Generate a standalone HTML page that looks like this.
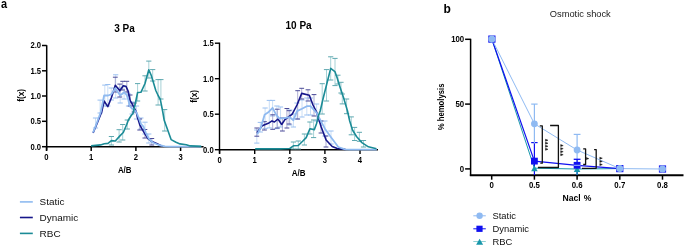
<!DOCTYPE html>
<html><head><meta charset="utf-8"><style>
html,body{margin:0;padding:0;background:#fff;width:685px;height:246px;overflow:hidden}
svg{display:block;font-family:"Liberation Sans", sans-serif;will-change:transform}
</style></head><body>
<svg width="685" height="246" viewBox="0 0 685 246">
<text x="1.0" y="8.0" font-size="12.6" font-weight="bold" text-anchor="start" fill="#000" transform="translate(1 8) scale(0.87 1) translate(-1 -8)">a</text>
<text x="443.4" y="13.2" font-size="12" font-weight="bold" text-anchor="start" fill="#000" >b</text>
<text x="124.5" y="31.5" font-size="10" font-weight="bold" text-anchor="middle" fill="#000" >3 Pa</text>
<line x1="46.7" y1="45.2" x2="46.7" y2="150.5" stroke="#000" stroke-width="1.5" />
<line x1="42.0" y1="45.5" x2="46.7" y2="45.5" stroke="#000" stroke-width="1.5" />
<text transform="translate(41.1 48.3) scale(0.97 1.13)" font-size="7.9" font-weight="bold" text-anchor="end" fill="#000">2.0</text>
<line x1="42.0" y1="70.8" x2="46.7" y2="70.8" stroke="#000" stroke-width="1.5" />
<text transform="translate(41.1 73.6) scale(0.97 1.13)" font-size="7.9" font-weight="bold" text-anchor="end" fill="#000">1.5</text>
<line x1="42.0" y1="96.0" x2="46.7" y2="96.0" stroke="#000" stroke-width="1.5" />
<text transform="translate(41.1 98.8) scale(0.97 1.13)" font-size="7.9" font-weight="bold" text-anchor="end" fill="#000">1.0</text>
<line x1="42.0" y1="121.3" x2="46.7" y2="121.3" stroke="#000" stroke-width="1.5" />
<text transform="translate(41.1 124.1) scale(0.97 1.13)" font-size="7.9" font-weight="bold" text-anchor="end" fill="#000">0.5</text>
<line x1="42.0" y1="146.7" x2="46.7" y2="146.7" stroke="#000" stroke-width="1.5" />
<text transform="translate(41.1 149.5) scale(0.97 1.13)" font-size="7.9" font-weight="bold" text-anchor="end" fill="#000">0.0</text>
<line x1="45.95" y1="146.7" x2="203.6" y2="146.7" stroke="#000" stroke-width="1.5" />
<line x1="46.5" y1="146.7" x2="46.5" y2="151.0" stroke="#000" stroke-width="1.5" />
<text transform="translate(46.5 159.6) scale(0.97 1.13)" font-size="7.9" font-weight="bold" text-anchor="middle" fill="#000">0</text>
<line x1="91.2" y1="146.7" x2="91.2" y2="151.0" stroke="#000" stroke-width="1.5" />
<text transform="translate(91.2 159.6) scale(0.97 1.13)" font-size="7.9" font-weight="bold" text-anchor="middle" fill="#000">1</text>
<line x1="135.9" y1="146.7" x2="135.9" y2="151.0" stroke="#000" stroke-width="1.5" />
<text transform="translate(135.9 159.6) scale(0.97 1.13)" font-size="7.9" font-weight="bold" text-anchor="middle" fill="#000">2</text>
<line x1="180.6" y1="146.7" x2="180.6" y2="151.0" stroke="#000" stroke-width="1.5" />
<text transform="translate(180.6 159.6) scale(0.97 1.13)" font-size="7.9" font-weight="bold" text-anchor="middle" fill="#000">3</text>
<text transform="translate(124.7 172.9) scale(0.99 1.16)" font-size="8.0" font-weight="bold" text-anchor="middle" fill="#000">A/B</text>
<text x="24.5" y="95.4" font-size="8.2" font-weight="bold" text-anchor="middle" fill="#000" transform="rotate(-90 24.5 95.4)">f(x)</text>
<line x1="95.5" y1="118" x2="95.5" y2="128" stroke="#bcd6f4" stroke-width="0.8" />
<line x1="92.9" y1="118" x2="98.1" y2="118" stroke="#99bff0" stroke-width="1.0" />
<line x1="92.9" y1="128" x2="98.1" y2="128" stroke="#99bff0" stroke-width="1.0" />
<line x1="100.1" y1="100.1" x2="100.1" y2="113" stroke="#bcd6f4" stroke-width="0.8" />
<line x1="97.5" y1="100.1" x2="102.69999999999999" y2="100.1" stroke="#99bff0" stroke-width="1.0" />
<line x1="97.5" y1="113" x2="102.69999999999999" y2="113" stroke="#99bff0" stroke-width="1.0" />
<line x1="104.8" y1="85.1" x2="104.8" y2="106" stroke="#bcd6f4" stroke-width="0.8" />
<line x1="102.2" y1="85.1" x2="107.39999999999999" y2="85.1" stroke="#99bff0" stroke-width="1.0" />
<line x1="102.2" y1="106" x2="107.39999999999999" y2="106" stroke="#99bff0" stroke-width="1.0" />
<line x1="107.8" y1="84.5" x2="107.8" y2="106" stroke="#bcd6f4" stroke-width="0.8" />
<line x1="105.2" y1="84.5" x2="110.39999999999999" y2="84.5" stroke="#99bff0" stroke-width="1.0" />
<line x1="105.2" y1="106" x2="110.39999999999999" y2="106" stroke="#99bff0" stroke-width="1.0" />
<line x1="111.3" y1="88" x2="111.3" y2="100" stroke="#bcd6f4" stroke-width="0.8" />
<line x1="108.7" y1="88" x2="113.89999999999999" y2="88" stroke="#99bff0" stroke-width="1.0" />
<line x1="108.7" y1="100" x2="113.89999999999999" y2="100" stroke="#99bff0" stroke-width="1.0" />
<line x1="115.7" y1="74.8" x2="115.7" y2="98" stroke="#bcd6f4" stroke-width="0.8" />
<line x1="113.10000000000001" y1="74.8" x2="118.3" y2="74.8" stroke="#99bff0" stroke-width="1.0" />
<line x1="113.10000000000001" y1="98" x2="118.3" y2="98" stroke="#99bff0" stroke-width="1.0" />
<line x1="120.2" y1="88" x2="120.2" y2="103" stroke="#bcd6f4" stroke-width="0.8" />
<line x1="117.60000000000001" y1="88" x2="122.8" y2="88" stroke="#99bff0" stroke-width="1.0" />
<line x1="117.60000000000001" y1="103" x2="122.8" y2="103" stroke="#99bff0" stroke-width="1.0" />
<line x1="124.1" y1="86" x2="124.1" y2="99" stroke="#bcd6f4" stroke-width="0.8" />
<line x1="121.5" y1="86" x2="126.69999999999999" y2="86" stroke="#99bff0" stroke-width="1.0" />
<line x1="121.5" y1="99" x2="126.69999999999999" y2="99" stroke="#99bff0" stroke-width="1.0" />
<line x1="128.5" y1="94" x2="128.5" y2="106" stroke="#bcd6f4" stroke-width="0.8" />
<line x1="125.9" y1="94" x2="131.1" y2="94" stroke="#99bff0" stroke-width="1.0" />
<line x1="125.9" y1="106" x2="131.1" y2="106" stroke="#99bff0" stroke-width="1.0" />
<line x1="132.1" y1="102" x2="132.1" y2="114" stroke="#bcd6f4" stroke-width="0.8" />
<line x1="129.5" y1="102" x2="134.7" y2="102" stroke="#99bff0" stroke-width="1.0" />
<line x1="129.5" y1="114" x2="134.7" y2="114" stroke="#99bff0" stroke-width="1.0" />
<line x1="136.5" y1="106" x2="136.5" y2="119" stroke="#bcd6f4" stroke-width="0.8" />
<line x1="133.9" y1="106" x2="139.1" y2="106" stroke="#99bff0" stroke-width="1.0" />
<line x1="133.9" y1="119" x2="139.1" y2="119" stroke="#99bff0" stroke-width="1.0" />
<line x1="140.9" y1="118" x2="140.9" y2="129" stroke="#bcd6f4" stroke-width="0.8" />
<line x1="138.3" y1="118" x2="143.5" y2="118" stroke="#99bff0" stroke-width="1.0" />
<line x1="138.3" y1="129" x2="143.5" y2="129" stroke="#99bff0" stroke-width="1.0" />
<line x1="145" y1="122.2" x2="145" y2="134" stroke="#bcd6f4" stroke-width="0.8" />
<line x1="142.4" y1="122.2" x2="147.6" y2="122.2" stroke="#99bff0" stroke-width="1.0" />
<line x1="142.4" y1="134" x2="147.6" y2="134" stroke="#99bff0" stroke-width="1.0" />
<line x1="148.8" y1="134" x2="148.8" y2="143" stroke="#bcd6f4" stroke-width="0.8" />
<line x1="146.20000000000002" y1="134" x2="151.4" y2="134" stroke="#99bff0" stroke-width="1.0" />
<line x1="146.20000000000002" y1="143" x2="151.4" y2="143" stroke="#99bff0" stroke-width="1.0" />
<line x1="115.3" y1="77.2" x2="115.3" y2="92" stroke="#9a9ac8" stroke-width="0.8" />
<line x1="112.89999999999999" y1="77.2" x2="117.7" y2="77.2" stroke="#4a4a98" stroke-width="1.0" />
<line x1="112.89999999999999" y1="92" x2="117.7" y2="92" stroke="#4a4a98" stroke-width="1.0" />
<line x1="119.8" y1="84.1" x2="119.8" y2="97" stroke="#9a9ac8" stroke-width="0.8" />
<line x1="117.39999999999999" y1="84.1" x2="122.2" y2="84.1" stroke="#4a4a98" stroke-width="1.0" />
<line x1="117.39999999999999" y1="97" x2="122.2" y2="97" stroke="#4a4a98" stroke-width="1.0" />
<line x1="122.7" y1="81.3" x2="122.7" y2="90" stroke="#9a9ac8" stroke-width="0.8" />
<line x1="120.3" y1="81.3" x2="125.10000000000001" y2="81.3" stroke="#4a4a98" stroke-width="1.0" />
<line x1="120.3" y1="90" x2="125.10000000000001" y2="90" stroke="#4a4a98" stroke-width="1.0" />
<line x1="126.8" y1="81.3" x2="126.8" y2="92" stroke="#9a9ac8" stroke-width="0.8" />
<line x1="124.39999999999999" y1="81.3" x2="129.2" y2="81.3" stroke="#4a4a98" stroke-width="1.0" />
<line x1="124.39999999999999" y1="92" x2="129.2" y2="92" stroke="#4a4a98" stroke-width="1.0" />
<line x1="130.1" y1="95" x2="130.1" y2="106" stroke="#9a9ac8" stroke-width="0.8" />
<line x1="127.69999999999999" y1="95" x2="132.5" y2="95" stroke="#4a4a98" stroke-width="1.0" />
<line x1="127.69999999999999" y1="106" x2="132.5" y2="106" stroke="#4a4a98" stroke-width="1.0" />
<line x1="134.2" y1="103" x2="134.2" y2="112" stroke="#9a9ac8" stroke-width="0.8" />
<line x1="131.79999999999998" y1="103" x2="136.6" y2="103" stroke="#4a4a98" stroke-width="1.0" />
<line x1="131.79999999999998" y1="112" x2="136.6" y2="112" stroke="#4a4a98" stroke-width="1.0" />
<line x1="139.7" y1="119" x2="139.7" y2="130" stroke="#9a9ac8" stroke-width="0.8" />
<line x1="137.29999999999998" y1="119" x2="142.1" y2="119" stroke="#4a4a98" stroke-width="1.0" />
<line x1="137.29999999999998" y1="130" x2="142.1" y2="130" stroke="#4a4a98" stroke-width="1.0" />
<line x1="144.9" y1="129.5" x2="144.9" y2="138" stroke="#9a9ac8" stroke-width="0.8" />
<line x1="142.5" y1="129.5" x2="147.3" y2="129.5" stroke="#4a4a98" stroke-width="1.0" />
<line x1="142.5" y1="138" x2="147.3" y2="138" stroke="#4a4a98" stroke-width="1.0" />
<line x1="151.8" y1="138.5" x2="151.8" y2="145" stroke="#9a9ac8" stroke-width="0.8" />
<line x1="149.4" y1="138.5" x2="154.20000000000002" y2="138.5" stroke="#4a4a98" stroke-width="1.0" />
<line x1="149.4" y1="145" x2="154.20000000000002" y2="145" stroke="#4a4a98" stroke-width="1.0" />
<line x1="111.4" y1="136.5" x2="111.4" y2="145" stroke="#8fc5cb" stroke-width="0.8" />
<line x1="108.80000000000001" y1="136.5" x2="114.0" y2="136.5" stroke="#5ea8b0" stroke-width="1.0" />
<line x1="108.80000000000001" y1="145" x2="114.0" y2="145" stroke="#5ea8b0" stroke-width="1.0" />
<line x1="119.1" y1="129.7" x2="119.1" y2="142" stroke="#8fc5cb" stroke-width="0.8" />
<line x1="116.5" y1="129.7" x2="121.69999999999999" y2="129.7" stroke="#5ea8b0" stroke-width="1.0" />
<line x1="116.5" y1="142" x2="121.69999999999999" y2="142" stroke="#5ea8b0" stroke-width="1.0" />
<line x1="122.7" y1="124.5" x2="122.7" y2="140" stroke="#8fc5cb" stroke-width="0.8" />
<line x1="120.10000000000001" y1="124.5" x2="125.3" y2="124.5" stroke="#5ea8b0" stroke-width="1.0" />
<line x1="120.10000000000001" y1="140" x2="125.3" y2="140" stroke="#5ea8b0" stroke-width="1.0" />
<line x1="127.3" y1="120" x2="127.3" y2="129" stroke="#8fc5cb" stroke-width="0.8" />
<line x1="124.7" y1="120" x2="129.9" y2="120" stroke="#5ea8b0" stroke-width="1.0" />
<line x1="124.7" y1="129" x2="129.9" y2="129" stroke="#5ea8b0" stroke-width="1.0" />
<line x1="137.6" y1="83.6" x2="137.6" y2="101" stroke="#8fc5cb" stroke-width="0.8" />
<line x1="135.0" y1="83.6" x2="140.2" y2="83.6" stroke="#5ea8b0" stroke-width="1.0" />
<line x1="135.0" y1="101" x2="140.2" y2="101" stroke="#5ea8b0" stroke-width="1.0" />
<line x1="145" y1="75.8" x2="145" y2="91" stroke="#8fc5cb" stroke-width="0.8" />
<line x1="142.4" y1="75.8" x2="147.6" y2="75.8" stroke="#5ea8b0" stroke-width="1.0" />
<line x1="142.4" y1="91" x2="147.6" y2="91" stroke="#5ea8b0" stroke-width="1.0" />
<line x1="148.8" y1="61.1" x2="148.8" y2="78" stroke="#8fc5cb" stroke-width="0.8" />
<line x1="146.20000000000002" y1="61.1" x2="151.4" y2="61.1" stroke="#5ea8b0" stroke-width="1.0" />
<line x1="146.20000000000002" y1="78" x2="151.4" y2="78" stroke="#5ea8b0" stroke-width="1.0" />
<line x1="152.7" y1="69.6" x2="152.7" y2="81" stroke="#8fc5cb" stroke-width="0.8" />
<line x1="150.1" y1="69.6" x2="155.29999999999998" y2="69.6" stroke="#5ea8b0" stroke-width="1.0" />
<line x1="150.1" y1="81" x2="155.29999999999998" y2="81" stroke="#5ea8b0" stroke-width="1.0" />
<line x1="158.1" y1="79.6" x2="158.1" y2="105" stroke="#8fc5cb" stroke-width="0.8" />
<line x1="155.5" y1="79.6" x2="160.7" y2="79.6" stroke="#5ea8b0" stroke-width="1.0" />
<line x1="155.5" y1="105" x2="160.7" y2="105" stroke="#5ea8b0" stroke-width="1.0" />
<line x1="160.9" y1="79.6" x2="160.9" y2="99" stroke="#8fc5cb" stroke-width="0.8" />
<line x1="158.3" y1="79.6" x2="163.5" y2="79.6" stroke="#5ea8b0" stroke-width="1.0" />
<line x1="158.3" y1="99" x2="163.5" y2="99" stroke="#5ea8b0" stroke-width="1.0" />
<line x1="164.7" y1="109.6" x2="164.7" y2="131" stroke="#8fc5cb" stroke-width="0.8" />
<line x1="162.1" y1="109.6" x2="167.29999999999998" y2="109.6" stroke="#5ea8b0" stroke-width="1.0" />
<line x1="162.1" y1="131" x2="167.29999999999998" y2="131" stroke="#5ea8b0" stroke-width="1.0" />
<polyline points="93.1,132.9 97.5,122.5 101.7,112 104.1,101 107.8,106.6 111.3,98 115.3,85.2 119.8,90.8 123.3,85.8 126.1,86.6 128.1,91 130.1,100.5 132.1,103.8 134.2,107.8 136.2,111.9 137.7,118.1 139.7,124.6 141.8,128.7 144.9,133.8 147.9,138.6 151.8,141.6 156.6,143.5 162,146.3" fill="none" stroke="#16168a" stroke-width="1.6" stroke-linejoin="round" />
<polyline points="93.1,132.5 97,122.5 100.8,112 104.1,95.5 108,95.5 111.3,94.3 115.3,88.2 120.2,95.5 124.1,92.2 126.6,94.8 128.5,100.5 129.7,106.2 132.1,108.6 134.6,110.3 136.5,112.5 138.9,118.1 140.9,123.8 143.4,126.6 145.9,132.8 148.8,138.6 152.7,142.5 158.6,145 165,146.3 170,146.6 201.2,146.7" fill="none" stroke="#8fbaf0" stroke-width="1.8" stroke-linejoin="round" />
<polyline points="91.1,145.9 100.6,144.9 104.3,143.8 108,143.4 111.4,140.6 115.3,141 119.9,135.9 123.3,132.5 126.7,124.5 128.4,120 131.2,115.5 133,113.5 135.2,104 137.6,92.5 140.9,92.3 145,83.5 148.8,69.8 151.1,75 153.5,82.7 155.8,90.5 158.1,95.5 160.3,99.3 162.8,112 164.2,120.3 167.7,130 171.1,139.6 176,142.3 180,143.9 186.3,144.7 190.2,145.9 201.2,146.4" fill="none" stroke="#1b8b96" stroke-width="1.6" stroke-linejoin="round" />
<text x="298.6" y="29.2" font-size="10" font-weight="bold" text-anchor="middle" fill="#000" >10 Pa</text>
<line x1="219.5" y1="42.6" x2="219.5" y2="153.5" stroke="#000" stroke-width="1.4" />
<line x1="214.9" y1="43.2" x2="219.5" y2="43.2" stroke="#000" stroke-width="1.4" />
<text transform="translate(213.7 46.0) scale(0.97 1.13)" font-size="7.9" font-weight="bold" text-anchor="end" fill="#000">1.5</text>
<line x1="214.9" y1="78.7" x2="219.5" y2="78.7" stroke="#000" stroke-width="1.4" />
<text transform="translate(213.7 81.5) scale(0.97 1.13)" font-size="7.9" font-weight="bold" text-anchor="end" fill="#000">1.0</text>
<line x1="214.9" y1="114.2" x2="219.5" y2="114.2" stroke="#000" stroke-width="1.4" />
<text transform="translate(213.7 117.0) scale(0.97 1.13)" font-size="7.9" font-weight="bold" text-anchor="end" fill="#000">0.5</text>
<line x1="214.9" y1="149.7" x2="219.5" y2="149.7" stroke="#000" stroke-width="1.4" />
<text transform="translate(213.7 152.5) scale(0.97 1.13)" font-size="7.9" font-weight="bold" text-anchor="end" fill="#000">0.0</text>
<line x1="218.8" y1="149.7" x2="378" y2="149.7" stroke="#000" stroke-width="1.4" />
<line x1="219.6" y1="149.7" x2="219.6" y2="154.0" stroke="#000" stroke-width="1.4" />
<text transform="translate(219.6 163.0) scale(0.97 1.13)" font-size="7.9" font-weight="bold" text-anchor="middle" fill="#000">0</text>
<line x1="254.7" y1="149.7" x2="254.7" y2="154.0" stroke="#000" stroke-width="1.4" />
<text transform="translate(254.7 163.0) scale(0.97 1.13)" font-size="7.9" font-weight="bold" text-anchor="middle" fill="#000">1</text>
<line x1="289.8" y1="149.7" x2="289.8" y2="154.0" stroke="#000" stroke-width="1.4" />
<text transform="translate(289.8 163.0) scale(0.97 1.13)" font-size="7.9" font-weight="bold" text-anchor="middle" fill="#000">2</text>
<line x1="324.9" y1="149.7" x2="324.9" y2="154.0" stroke="#000" stroke-width="1.4" />
<text transform="translate(324.9 163.0) scale(0.97 1.13)" font-size="7.9" font-weight="bold" text-anchor="middle" fill="#000">3</text>
<line x1="360.0" y1="149.7" x2="360.0" y2="154.0" stroke="#000" stroke-width="1.4" />
<text transform="translate(360.0 163.0) scale(0.97 1.13)" font-size="7.9" font-weight="bold" text-anchor="middle" fill="#000">4</text>
<text transform="translate(298.6 176.2) scale(0.99 1.16)" font-size="8.1" font-weight="bold" text-anchor="middle" fill="#000">A/B</text>
<text x="196.9" y="96.3" font-size="8.2" font-weight="bold" text-anchor="middle" fill="#000" transform="rotate(-90 196.9 96.3)">f(x)</text>
<line x1="256.8" y1="130" x2="256.8" y2="143.1" stroke="#bcd6f4" stroke-width="0.8" />
<line x1="254.20000000000002" y1="130" x2="259.40000000000003" y2="130" stroke="#99bff0" stroke-width="1.0" />
<line x1="254.20000000000002" y1="143.1" x2="259.40000000000003" y2="143.1" stroke="#99bff0" stroke-width="1.0" />
<line x1="260.3" y1="122.4" x2="260.3" y2="132" stroke="#bcd6f4" stroke-width="0.8" />
<line x1="257.7" y1="122.4" x2="262.90000000000003" y2="122.4" stroke="#99bff0" stroke-width="1.0" />
<line x1="257.7" y1="132" x2="262.90000000000003" y2="132" stroke="#99bff0" stroke-width="1.0" />
<line x1="265.1" y1="108" x2="265.1" y2="128.6" stroke="#bcd6f4" stroke-width="0.8" />
<line x1="262.5" y1="108" x2="267.70000000000005" y2="108" stroke="#99bff0" stroke-width="1.0" />
<line x1="262.5" y1="128.6" x2="267.70000000000005" y2="128.6" stroke="#99bff0" stroke-width="1.0" />
<line x1="269.3" y1="100.4" x2="269.3" y2="127.9" stroke="#bcd6f4" stroke-width="0.8" />
<line x1="266.7" y1="100.4" x2="271.90000000000003" y2="100.4" stroke="#99bff0" stroke-width="1.0" />
<line x1="266.7" y1="127.9" x2="271.90000000000003" y2="127.9" stroke="#99bff0" stroke-width="1.0" />
<line x1="272.6" y1="100.4" x2="272.6" y2="116" stroke="#bcd6f4" stroke-width="0.8" />
<line x1="270.0" y1="100.4" x2="275.20000000000005" y2="100.4" stroke="#99bff0" stroke-width="1.0" />
<line x1="270.0" y1="116" x2="275.20000000000005" y2="116" stroke="#99bff0" stroke-width="1.0" />
<line x1="276.9" y1="106" x2="276.9" y2="128.6" stroke="#bcd6f4" stroke-width="0.8" />
<line x1="274.29999999999995" y1="106" x2="279.5" y2="106" stroke="#99bff0" stroke-width="1.0" />
<line x1="274.29999999999995" y1="128.6" x2="279.5" y2="128.6" stroke="#99bff0" stroke-width="1.0" />
<line x1="280.5" y1="107" x2="280.5" y2="127" stroke="#bcd6f4" stroke-width="0.8" />
<line x1="277.9" y1="107" x2="283.1" y2="107" stroke="#99bff0" stroke-width="1.0" />
<line x1="277.9" y1="127" x2="283.1" y2="127" stroke="#99bff0" stroke-width="1.0" />
<line x1="289.8" y1="110" x2="289.8" y2="125" stroke="#bcd6f4" stroke-width="0.8" />
<line x1="287.2" y1="110" x2="292.40000000000003" y2="110" stroke="#99bff0" stroke-width="1.0" />
<line x1="287.2" y1="125" x2="292.40000000000003" y2="125" stroke="#99bff0" stroke-width="1.0" />
<line x1="293.4" y1="114" x2="293.4" y2="127" stroke="#bcd6f4" stroke-width="0.8" />
<line x1="290.79999999999995" y1="114" x2="296.0" y2="114" stroke="#99bff0" stroke-width="1.0" />
<line x1="290.79999999999995" y1="127" x2="296.0" y2="127" stroke="#99bff0" stroke-width="1.0" />
<line x1="297" y1="103" x2="297" y2="119" stroke="#bcd6f4" stroke-width="0.8" />
<line x1="294.4" y1="103" x2="299.6" y2="103" stroke="#99bff0" stroke-width="1.0" />
<line x1="294.4" y1="119" x2="299.6" y2="119" stroke="#99bff0" stroke-width="1.0" />
<line x1="302" y1="100" x2="302" y2="117" stroke="#bcd6f4" stroke-width="0.8" />
<line x1="299.4" y1="100" x2="304.6" y2="100" stroke="#99bff0" stroke-width="1.0" />
<line x1="299.4" y1="117" x2="304.6" y2="117" stroke="#99bff0" stroke-width="1.0" />
<line x1="306.8" y1="98" x2="306.8" y2="115" stroke="#bcd6f4" stroke-width="0.8" />
<line x1="304.2" y1="98" x2="309.40000000000003" y2="98" stroke="#99bff0" stroke-width="1.0" />
<line x1="304.2" y1="115" x2="309.40000000000003" y2="115" stroke="#99bff0" stroke-width="1.0" />
<line x1="310.5" y1="98" x2="310.5" y2="115" stroke="#bcd6f4" stroke-width="0.8" />
<line x1="307.9" y1="98" x2="313.1" y2="98" stroke="#99bff0" stroke-width="1.0" />
<line x1="307.9" y1="115" x2="313.1" y2="115" stroke="#99bff0" stroke-width="1.0" />
<line x1="316.6" y1="104" x2="316.6" y2="121" stroke="#bcd6f4" stroke-width="0.8" />
<line x1="314.0" y1="104" x2="319.20000000000005" y2="104" stroke="#99bff0" stroke-width="1.0" />
<line x1="314.0" y1="121" x2="319.20000000000005" y2="121" stroke="#99bff0" stroke-width="1.0" />
<line x1="324.9" y1="121" x2="324.9" y2="136" stroke="#bcd6f4" stroke-width="0.8" />
<line x1="322.29999999999995" y1="121" x2="327.5" y2="121" stroke="#99bff0" stroke-width="1.0" />
<line x1="322.29999999999995" y1="136" x2="327.5" y2="136" stroke="#99bff0" stroke-width="1.0" />
<line x1="331" y1="131" x2="331" y2="144" stroke="#bcd6f4" stroke-width="0.8" />
<line x1="328.4" y1="131" x2="333.6" y2="131" stroke="#99bff0" stroke-width="1.0" />
<line x1="328.4" y1="144" x2="333.6" y2="144" stroke="#99bff0" stroke-width="1.0" />
<line x1="256.8" y1="128" x2="256.8" y2="136.2" stroke="#9a9ac8" stroke-width="0.8" />
<line x1="254.4" y1="128" x2="259.2" y2="128" stroke="#4a4a98" stroke-width="1.0" />
<line x1="254.4" y1="136.2" x2="259.2" y2="136.2" stroke="#4a4a98" stroke-width="1.0" />
<line x1="264.4" y1="121.7" x2="264.4" y2="130" stroke="#9a9ac8" stroke-width="0.8" />
<line x1="262.0" y1="121.7" x2="266.79999999999995" y2="121.7" stroke="#4a4a98" stroke-width="1.0" />
<line x1="262.0" y1="130" x2="266.79999999999995" y2="130" stroke="#4a4a98" stroke-width="1.0" />
<line x1="272.7" y1="114.8" x2="272.7" y2="129.3" stroke="#9a9ac8" stroke-width="0.8" />
<line x1="270.3" y1="114.8" x2="275.09999999999997" y2="114.8" stroke="#4a4a98" stroke-width="1.0" />
<line x1="270.3" y1="129.3" x2="275.09999999999997" y2="129.3" stroke="#4a4a98" stroke-width="1.0" />
<line x1="277.3" y1="109.2" x2="277.3" y2="128" stroke="#9a9ac8" stroke-width="0.8" />
<line x1="274.90000000000003" y1="109.2" x2="279.7" y2="109.2" stroke="#4a4a98" stroke-width="1.0" />
<line x1="274.90000000000003" y1="128" x2="279.7" y2="128" stroke="#4a4a98" stroke-width="1.0" />
<line x1="282.4" y1="118" x2="282.4" y2="131" stroke="#9a9ac8" stroke-width="0.8" />
<line x1="280.0" y1="118" x2="284.79999999999995" y2="118" stroke="#4a4a98" stroke-width="1.0" />
<line x1="280.0" y1="131" x2="284.79999999999995" y2="131" stroke="#4a4a98" stroke-width="1.0" />
<line x1="286.9" y1="108.5" x2="286.9" y2="128" stroke="#9a9ac8" stroke-width="0.8" />
<line x1="284.5" y1="108.5" x2="289.29999999999995" y2="108.5" stroke="#4a4a98" stroke-width="1.0" />
<line x1="284.5" y1="128" x2="289.29999999999995" y2="128" stroke="#4a4a98" stroke-width="1.0" />
<line x1="289.1" y1="110.7" x2="289.1" y2="124" stroke="#9a9ac8" stroke-width="0.8" />
<line x1="286.70000000000005" y1="110.7" x2="291.5" y2="110.7" stroke="#4a4a98" stroke-width="1.0" />
<line x1="286.70000000000005" y1="124" x2="291.5" y2="124" stroke="#4a4a98" stroke-width="1.0" />
<line x1="297.7" y1="90.7" x2="297.7" y2="119" stroke="#9a9ac8" stroke-width="0.8" />
<line x1="295.3" y1="90.7" x2="300.09999999999997" y2="90.7" stroke="#4a4a98" stroke-width="1.0" />
<line x1="295.3" y1="119" x2="300.09999999999997" y2="119" stroke="#4a4a98" stroke-width="1.0" />
<line x1="301.7" y1="88.3" x2="301.7" y2="99" stroke="#9a9ac8" stroke-width="0.8" />
<line x1="299.3" y1="88.3" x2="304.09999999999997" y2="88.3" stroke="#4a4a98" stroke-width="1.0" />
<line x1="299.3" y1="99" x2="304.09999999999997" y2="99" stroke="#4a4a98" stroke-width="1.0" />
<line x1="308" y1="89.8" x2="308" y2="101" stroke="#9a9ac8" stroke-width="0.8" />
<line x1="305.6" y1="89.8" x2="310.4" y2="89.8" stroke="#4a4a98" stroke-width="1.0" />
<line x1="305.6" y1="101" x2="310.4" y2="101" stroke="#4a4a98" stroke-width="1.0" />
<line x1="314" y1="94.6" x2="314" y2="116" stroke="#9a9ac8" stroke-width="0.8" />
<line x1="311.6" y1="94.6" x2="316.4" y2="94.6" stroke="#4a4a98" stroke-width="1.0" />
<line x1="311.6" y1="116" x2="316.4" y2="116" stroke="#4a4a98" stroke-width="1.0" />
<line x1="321" y1="121" x2="321" y2="133" stroke="#9a9ac8" stroke-width="0.8" />
<line x1="318.6" y1="121" x2="323.4" y2="121" stroke="#4a4a98" stroke-width="1.0" />
<line x1="318.6" y1="133" x2="323.4" y2="133" stroke="#4a4a98" stroke-width="1.0" />
<line x1="326" y1="136" x2="326" y2="147" stroke="#9a9ac8" stroke-width="0.8" />
<line x1="323.6" y1="136" x2="328.4" y2="136" stroke="#4a4a98" stroke-width="1.0" />
<line x1="323.6" y1="147" x2="328.4" y2="147" stroke="#4a4a98" stroke-width="1.0" />
<line x1="293.4" y1="142" x2="293.4" y2="149" stroke="#8fc5cb" stroke-width="0.8" />
<line x1="290.79999999999995" y1="142" x2="296.0" y2="142" stroke="#5ea8b0" stroke-width="1.0" />
<line x1="290.79999999999995" y1="149" x2="296.0" y2="149" stroke="#5ea8b0" stroke-width="1.0" />
<line x1="298.3" y1="141" x2="298.3" y2="149" stroke="#8fc5cb" stroke-width="0.8" />
<line x1="295.7" y1="141" x2="300.90000000000003" y2="141" stroke="#5ea8b0" stroke-width="1.0" />
<line x1="295.7" y1="149" x2="300.90000000000003" y2="149" stroke="#5ea8b0" stroke-width="1.0" />
<line x1="304.4" y1="134" x2="304.4" y2="145" stroke="#8fc5cb" stroke-width="0.8" />
<line x1="301.79999999999995" y1="134" x2="307.0" y2="134" stroke="#5ea8b0" stroke-width="1.0" />
<line x1="301.79999999999995" y1="145" x2="307.0" y2="145" stroke="#5ea8b0" stroke-width="1.0" />
<line x1="309.9" y1="122" x2="309.9" y2="134" stroke="#8fc5cb" stroke-width="0.8" />
<line x1="307.29999999999995" y1="122" x2="312.5" y2="122" stroke="#5ea8b0" stroke-width="1.0" />
<line x1="307.29999999999995" y1="134" x2="312.5" y2="134" stroke="#5ea8b0" stroke-width="1.0" />
<line x1="313.6" y1="120" x2="313.6" y2="137.6" stroke="#8fc5cb" stroke-width="0.8" />
<line x1="311.0" y1="120" x2="316.20000000000005" y2="120" stroke="#5ea8b0" stroke-width="1.0" />
<line x1="311.0" y1="137.6" x2="316.20000000000005" y2="137.6" stroke="#5ea8b0" stroke-width="1.0" />
<line x1="322.2" y1="83.7" x2="322.2" y2="114" stroke="#8fc5cb" stroke-width="0.8" />
<line x1="319.59999999999997" y1="83.7" x2="324.8" y2="83.7" stroke="#5ea8b0" stroke-width="1.0" />
<line x1="319.59999999999997" y1="114" x2="324.8" y2="114" stroke="#5ea8b0" stroke-width="1.0" />
<line x1="326.5" y1="69.6" x2="326.5" y2="101" stroke="#8fc5cb" stroke-width="0.8" />
<line x1="323.9" y1="69.6" x2="329.1" y2="69.6" stroke="#5ea8b0" stroke-width="1.0" />
<line x1="323.9" y1="101" x2="329.1" y2="101" stroke="#5ea8b0" stroke-width="1.0" />
<line x1="330.7" y1="56.8" x2="330.7" y2="80" stroke="#8fc5cb" stroke-width="0.8" />
<line x1="328.09999999999997" y1="56.8" x2="333.3" y2="56.8" stroke="#5ea8b0" stroke-width="1.0" />
<line x1="328.09999999999997" y1="80" x2="333.3" y2="80" stroke="#5ea8b0" stroke-width="1.0" />
<line x1="335" y1="58.4" x2="335" y2="85.6" stroke="#8fc5cb" stroke-width="0.8" />
<line x1="332.4" y1="58.4" x2="337.6" y2="58.4" stroke="#5ea8b0" stroke-width="1.0" />
<line x1="332.4" y1="85.6" x2="337.6" y2="85.6" stroke="#5ea8b0" stroke-width="1.0" />
<line x1="337.9" y1="75.2" x2="337.9" y2="84" stroke="#8fc5cb" stroke-width="0.8" />
<line x1="335.29999999999995" y1="75.2" x2="340.5" y2="75.2" stroke="#5ea8b0" stroke-width="1.0" />
<line x1="335.29999999999995" y1="84" x2="340.5" y2="84" stroke="#5ea8b0" stroke-width="1.0" />
<line x1="341" y1="82.3" x2="341" y2="93" stroke="#8fc5cb" stroke-width="0.8" />
<line x1="338.4" y1="82.3" x2="343.6" y2="82.3" stroke="#5ea8b0" stroke-width="1.0" />
<line x1="338.4" y1="93" x2="343.6" y2="93" stroke="#5ea8b0" stroke-width="1.0" />
<line x1="342.3" y1="94" x2="342.3" y2="103.9" stroke="#8fc5cb" stroke-width="0.8" />
<line x1="339.7" y1="94" x2="344.90000000000003" y2="94" stroke="#5ea8b0" stroke-width="1.0" />
<line x1="339.7" y1="103.9" x2="344.90000000000003" y2="103.9" stroke="#5ea8b0" stroke-width="1.0" />
<line x1="346.6" y1="99" x2="346.6" y2="113.7" stroke="#8fc5cb" stroke-width="0.8" />
<line x1="344.0" y1="99" x2="349.20000000000005" y2="99" stroke="#5ea8b0" stroke-width="1.0" />
<line x1="344.0" y1="113.7" x2="349.20000000000005" y2="113.7" stroke="#5ea8b0" stroke-width="1.0" />
<line x1="351.3" y1="116.9" x2="351.3" y2="134.8" stroke="#8fc5cb" stroke-width="0.8" />
<line x1="348.7" y1="116.9" x2="353.90000000000003" y2="116.9" stroke="#5ea8b0" stroke-width="1.0" />
<line x1="348.7" y1="134.8" x2="353.90000000000003" y2="134.8" stroke="#5ea8b0" stroke-width="1.0" />
<line x1="354.6" y1="127.4" x2="354.6" y2="140.5" stroke="#8fc5cb" stroke-width="0.8" />
<line x1="352.0" y1="127.4" x2="357.20000000000005" y2="127.4" stroke="#5ea8b0" stroke-width="1.0" />
<line x1="352.0" y1="140.5" x2="357.20000000000005" y2="140.5" stroke="#5ea8b0" stroke-width="1.0" />
<line x1="359.4" y1="132.3" x2="359.4" y2="141.3" stroke="#8fc5cb" stroke-width="0.8" />
<line x1="356.79999999999995" y1="132.3" x2="362.0" y2="132.3" stroke="#5ea8b0" stroke-width="1.0" />
<line x1="356.79999999999995" y1="141.3" x2="362.0" y2="141.3" stroke="#5ea8b0" stroke-width="1.0" />
<line x1="363.5" y1="140.5" x2="363.5" y2="147" stroke="#8fc5cb" stroke-width="0.8" />
<line x1="360.9" y1="140.5" x2="366.1" y2="140.5" stroke="#5ea8b0" stroke-width="1.0" />
<line x1="360.9" y1="147" x2="366.1" y2="147" stroke="#5ea8b0" stroke-width="1.0" />
<polyline points="257,132.8 262.2,125.7 268.3,123.3 272,120.9 274.4,122 278,119 281.7,124.5 284.9,119.6 288.5,117 292.2,114.1 297,105 301.7,93.4 309.3,95.2 313,105 316.6,112 321.2,127 326.1,140 332.2,146.5 337.3,148.5 345.4,149.4" fill="none" stroke="#16168a" stroke-width="1.6" stroke-linejoin="round" />
<polyline points="257.3,134.3 261,127 264.6,114.8 268.3,112.3 272.6,107.8 276.2,114.8 279.3,118.4 283,118.4 289.8,117.2 293.4,120.2 297,111.1 302,108.7 306.8,106.2 310.5,106.2 316.6,112.9 324.9,128.7 331,137.2 338.3,147 345,149.3 350,149.7 376.8,149.7" fill="none" stroke="#8fbaf0" stroke-width="1.8" stroke-linejoin="round" />
<polyline points="255.2,148.9 270,148.9 280,148.9 289.8,148.5 293.4,145.8 298.3,145.5 302.6,141.3 306.2,137.6 309.9,128.8 314.3,129.6 316.5,123.7 318.7,114.9 320.2,111 323,99 326.5,85 330.7,68.4 334.9,71.6 337.3,78.3 339.3,85 343.5,97.5 347.5,111 349.7,121 352.5,130 356.5,136.5 361.9,142.6 368.4,146.8 376.5,148.8" fill="none" stroke="#1b8b96" stroke-width="1.6" stroke-linejoin="round" />
<line x1="19.9" y1="201.9" x2="32.8" y2="201.9" stroke="#8fbaf0" stroke-width="1.6" />
<text x="39.6" y="205.45000000000002" font-size="9.95" font-weight="normal" text-anchor="start" fill="#111" >Static</text>
<line x1="19.9" y1="217.5" x2="32.8" y2="217.5" stroke="#16168a" stroke-width="1.6" />
<text x="39.6" y="221.05" font-size="9.95" font-weight="normal" text-anchor="start" fill="#111" >Dynamic</text>
<line x1="19.9" y1="233.4" x2="32.8" y2="233.4" stroke="#1b8b96" stroke-width="1.6" />
<text x="39.6" y="236.95000000000002" font-size="9.95" font-weight="normal" text-anchor="start" fill="#111" >RBC</text>
<text x="580.3" y="17" font-size="9.3" font-weight="normal" text-anchor="middle" fill="#222" >Osmotic shock</text>
<line x1="470.6" y1="38.8" x2="470.6" y2="175.95" stroke="#000" stroke-width="1.5" />
<line x1="465.1" y1="39.30000000000001" x2="470.6" y2="39.30000000000001" stroke="#000" stroke-width="1.5" />
<text transform="translate(464.2 42.15000000000001) scale(0.99 1.13)" font-size="7.9" font-weight="bold" text-anchor="end" fill="#000">100</text>
<line x1="465.1" y1="104.10000000000001" x2="470.6" y2="104.10000000000001" stroke="#000" stroke-width="1.5" />
<text transform="translate(464.2 106.95) scale(0.99 1.13)" font-size="7.9" font-weight="bold" text-anchor="end" fill="#000">50</text>
<line x1="465.1" y1="168.9" x2="470.6" y2="168.9" stroke="#000" stroke-width="1.5" />
<text transform="translate(464.2 171.75) scale(0.99 1.13)" font-size="7.9" font-weight="bold" text-anchor="end" fill="#000">0</text>
<line x1="469.85" y1="175.2" x2="683.5" y2="175.2" stroke="#000" stroke-width="2.0" />
<line x1="491.7" y1="175.2" x2="491.7" y2="179.7" stroke="#000" stroke-width="1.5" />
<text transform="translate(491.7 187.9) scale(0.99 1.13)" font-size="7.9" font-weight="bold" text-anchor="middle" fill="#000">0</text>
<line x1="534.4" y1="175.2" x2="534.4" y2="179.7" stroke="#000" stroke-width="1.5" />
<text transform="translate(534.4 187.9) scale(0.99 1.13)" font-size="7.9" font-weight="bold" text-anchor="middle" fill="#000">0.5</text>
<line x1="577.1" y1="175.2" x2="577.1" y2="179.7" stroke="#000" stroke-width="1.5" />
<text transform="translate(577.1 187.9) scale(0.99 1.13)" font-size="7.9" font-weight="bold" text-anchor="middle" fill="#000">0.6</text>
<line x1="619.8" y1="175.2" x2="619.8" y2="179.7" stroke="#000" stroke-width="1.5" />
<text transform="translate(619.8 187.9) scale(0.99 1.13)" font-size="7.9" font-weight="bold" text-anchor="middle" fill="#000">0.7</text>
<line x1="662.5" y1="175.2" x2="662.5" y2="179.7" stroke="#000" stroke-width="1.5" />
<text transform="translate(662.5 187.9) scale(0.99 1.13)" font-size="7.9" font-weight="bold" text-anchor="middle" fill="#000">0.8</text>
<text x="576.9" y="201" font-size="8.6" font-weight="bold" text-anchor="middle" fill="#000" word-spacing="0.6">Nacl %</text>
<text transform="translate(444.4 106.9) rotate(-90) scale(0.99 1.13)" font-size="7.8" font-weight="bold" text-anchor="middle" fill="#000">% hemolysis</text>
<polyline points="491.9,39.2 534.4,168.2 577.1,169.0 619.8,168.6" fill="none" stroke="#1897ab" stroke-width="1.0" stroke-linejoin="round" />
<polyline points="491.9,39.2 534.4,161.1 577.1,165.3 619.8,168.6" fill="none" stroke="#1010f0" stroke-width="1.2" stroke-linejoin="round" />
<polyline points="491.9,39.2 534.4,123.8 577.1,150 619.8,168.6 662.5,169" fill="none" stroke="#8fbaf2" stroke-width="1.0" stroke-linejoin="round" />
<line x1="534.4" y1="142.6" x2="534.4" y2="175" stroke="#1010f0" stroke-width="1.2" />
<line x1="531.1999999999999" y1="142.6" x2="537.6" y2="142.6" stroke="#1010f0" stroke-width="1.2" />
<line x1="534.4" y1="104.1" x2="534.4" y2="143.5" stroke="#8fbaf2" stroke-width="1.2" />
<line x1="531.1999999999999" y1="104.1" x2="537.6" y2="104.1" stroke="#8fbaf2" stroke-width="1.2" />
<line x1="577.1" y1="134.4" x2="577.1" y2="165.6" stroke="#8fbaf2" stroke-width="1.2" />
<line x1="573.7" y1="134.4" x2="580.5" y2="134.4" stroke="#8fbaf2" stroke-width="1.2" />
<line x1="577.1" y1="159.3" x2="577.1" y2="175" stroke="#1010f0" stroke-width="1.2" />
<line x1="573.7" y1="159.3" x2="580.5" y2="159.3" stroke="#1010f0" stroke-width="1.3" />
<line x1="577.1" y1="170" x2="577.1" y2="175" stroke="#1897ab" stroke-width="1.2" />
<polygon points="534.4,165.5548 531.1,171.2968 537.6999999999999,171.2968" fill="#1897ab"/>
<polygon points="577.1,166.3548 573.8000000000001,172.0968 580.4,172.0968" fill="#1897ab"/>
<rect x="531.0" y="157.7" width="6.8" height="6.8" fill="#1010f0"/>
<rect x="573.7" y="161.9" width="6.8" height="6.8" fill="#1010f0"/>
<line x1="573.7" y1="165.3" x2="580.5" y2="165.3" stroke="#b8d4f8" stroke-width="0.9" />
<rect x="488.29999999999995" y="35.5" width="7.2" height="7.2" fill="#1010f0"/>
<circle cx="491.9" cy="39.1" r="3.55" fill="#8fbaf2"/>
<rect x="616.1999999999999" y="165.0" width="7.2" height="7.2" fill="#1010f0"/>
<circle cx="619.8" cy="168.6" r="3.55" fill="#8fbaf2"/>
<rect x="658.9" y="165.4" width="7.2" height="7.2" fill="#1010f0"/>
<circle cx="662.5" cy="169" r="3.55" fill="#8fbaf2"/>
<circle cx="534.4" cy="123.8" r="3.4" fill="#8fbaf2"/>
<circle cx="577.1" cy="150" r="3.4" fill="#8fbaf2"/>
<polyline points="539.8,125.9 542.3,125.9 542.3,163.2 540.3,163.2" fill="none" stroke="#111" stroke-width="1.3" stroke-linejoin="round" stroke-linejoin="miter"/>
<polyline points="550.1,125.5 558.4,125.5 558.4,167.5 537.9,167.5" fill="none" stroke="#111" stroke-width="1.3" stroke-linejoin="round" stroke-linejoin="miter"/>
<polyline points="583.2,148.9 585.6,148.9 585.6,164.5 583.2,164.5" fill="none" stroke="#111" stroke-width="1.3" stroke-linejoin="round" stroke-linejoin="miter"/>
<polyline points="594.1,149.6 596.2,149.6 596.2,168.3 582,168.3" fill="none" stroke="#111" stroke-width="1.3" stroke-linejoin="round" stroke-linejoin="miter"/>
<path d="M545.5,139.2 L548.0,140.2 L545.5,141.2 Z" fill="#1a1a1a" stroke="#1a1a1a" stroke-width="0.5" stroke-linejoin="round"/>
<path d="M545.5,142.23 L548.0,143.23 L545.5,144.23 Z" fill="#1a1a1a" stroke="#1a1a1a" stroke-width="0.5" stroke-linejoin="round"/>
<path d="M545.5,145.26 L548.0,146.26 L545.5,147.26 Z" fill="#1a1a1a" stroke="#1a1a1a" stroke-width="0.5" stroke-linejoin="round"/>
<path d="M545.5,148.29 L548.0,149.29 L545.5,150.29 Z" fill="#1a1a1a" stroke="#1a1a1a" stroke-width="0.5" stroke-linejoin="round"/>
<path d="M560.6999999999999,144.6 L563.1999999999999,145.6 L560.6999999999999,146.6 Z" fill="#1a1a1a" stroke="#1a1a1a" stroke-width="0.5" stroke-linejoin="round"/>
<path d="M560.6999999999999,147.63 L563.1999999999999,148.63 L560.6999999999999,149.63 Z" fill="#1a1a1a" stroke="#1a1a1a" stroke-width="0.5" stroke-linejoin="round"/>
<path d="M560.6999999999999,150.66 L563.1999999999999,151.66 L560.6999999999999,152.66 Z" fill="#1a1a1a" stroke="#1a1a1a" stroke-width="0.5" stroke-linejoin="round"/>
<path d="M560.6999999999999,153.69 L563.1999999999999,154.69 L560.6999999999999,155.69 Z" fill="#1a1a1a" stroke="#1a1a1a" stroke-width="0.5" stroke-linejoin="round"/>
<path d="M586.3,157.6 L588.8,158.6 L586.3,159.6 Z" fill="#1a1a1a" stroke="#1a1a1a" stroke-width="0.5" stroke-linejoin="round"/>
<path d="M599.8,157.2 L602.3,158.2 L599.8,159.2 Z" fill="#1a1a1a" stroke="#1a1a1a" stroke-width="0.5" stroke-linejoin="round"/>
<path d="M599.8,160.39999999999998 L602.3,161.39999999999998 L599.8,162.39999999999998 Z" fill="#1a1a1a" stroke="#1a1a1a" stroke-width="0.5" stroke-linejoin="round"/>
<path d="M599.8,163.6 L602.3,164.6 L599.8,165.6 Z" fill="#1a1a1a" stroke="#1a1a1a" stroke-width="0.5" stroke-linejoin="round"/>
<line x1="473.3" y1="215.8" x2="485.8" y2="215.8" stroke="#8fbaf2" stroke-width="1.0" />
<circle cx="479.6" cy="215.8" r="3.2" fill="#8fbaf2"/>
<text x="492.5" y="219.15" font-size="9.4" font-weight="normal" text-anchor="start" fill="#111" >Static</text>
<line x1="473.3" y1="228.8" x2="485.8" y2="228.8" stroke="#1010f0" stroke-width="1.0" />
<rect x="476.4" y="225.70000000000002" width="6.2" height="6.2" fill="#1010f0"/>
<text x="492.5" y="232.15" font-size="9.4" font-weight="normal" text-anchor="start" fill="#111" >Dynamic</text>
<line x1="473.3" y1="241.5" x2="485.8" y2="241.5" stroke="#8fd0d4" stroke-width="1.0" />
<polygon points="479.6,238.746 476.1,244.836 483.1,244.836" fill="#1897ab"/>
<text x="492.5" y="244.85" font-size="9.4" font-weight="normal" text-anchor="start" fill="#111" >RBC</text>
</svg>
</body></html>
